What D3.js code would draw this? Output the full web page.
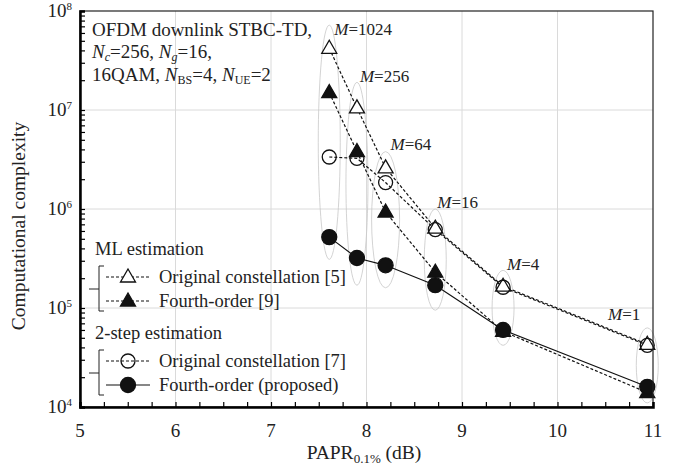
<!DOCTYPE html>
<html>
<head>
<meta charset="utf-8">
<script src="https://cdn.jsdelivr.net/npm/d3@7"></script>
<style>
  body { margin: 0; background: #fff; }
  text { font-family: "Liberation Serif", "Times New Roman", serif; fill: #222; }
</style>
</head>
<body>
<div id="chart"></div>
<script>
// PAPR (dB) for M = 1024, 256, 64, 16, 4, 1
const papr = [7.61, 7.9, 8.2, 8.72, 9.43, 10.94];
const mLabels = ["1024", "256", "64", "16", "4", "1"];

// complexity values per scheme
const mlOriginal = [4.2e7, 1.05e7, 2.6e6, 6.4e5, 1.66e5, 4.3e4];
const mlFourth = [1.5e7, 3.8e6, 9.3e5, 2.3e5, 5.8e4, 1.4e4];
const twoStepOriginal = [3.35e6, 3.25e6, 1.85e6, 6.2e5, 1.62e5, 4.2e4];
const twoStepFourth = [5.2e5, 3.2e5, 2.7e5, 1.7e5, 6.0e4, 1.6e4];

// grey ellipses grouping each M (top / bottom complexity)
const ellipseTop = [7.2e7, 1.9e7, 3.8e6, 1.0e6, 2.4e5, 6.3e4];
const ellipseBottom = [3.1e5, 1.7e5, 1.6e5, 9.5e4, 4.2e4, 1.1e4];

const series = [
    { name: "Original constellation [5]", values: mlOriginal, marker: "triangle", filled: false, dashed: true },
    { name: "Fourth-order [9]", values: mlFourth, marker: "triangle", filled: true, dashed: true },
    { name: "Original constellation [7]", values: twoStepOriginal, marker: "circle", filled: false, dashed: true },
    { name: "Fourth-order (proposed)", values: twoStepFourth, marker: "circle", filled: true, dashed: false }
];

const W = 694, H = 471;
const plotL = 80, plotR = 653, plotT = 11, plotB = 407;

const svg = d3.select("#chart").append("svg")
    .attr("width", W)
    .attr("height", H);

const x = d3.scaleLinear().domain([5, 11]).range([plotL, plotR]);
const y = d3.scaleLog().domain([1e4, 1e8]).range([plotB, plotT]);

// grid
const grid = svg.append("g").attr("stroke", "#dadada").attr("stroke-width", 1);
[6, 7, 8, 9, 10].forEach(v => {
    grid.append("line").attr("x1", x(v)).attr("x2", x(v)).attr("y1", plotT).attr("y2", plotB);
});
[1e5, 1e6, 1e7].forEach(v => {
    grid.append("line").attr("x1", plotL).attr("x2", plotR).attr("y1", y(v)).attr("y2", y(v));
});

// ellipses
svg.append("g").selectAll("ellipse")
    .data(papr)
    .enter().append("ellipse")
    .attr("cx", d => x(d))
    .attr("cy", (d, i) => (y(ellipseTop[i]) + y(ellipseBottom[i])) / 2)
    .attr("rx", (d, i) => i === 2 ? 14 : 11)
    .attr("ry", (d, i) => (y(ellipseBottom[i]) - y(ellipseTop[i])) / 2)
    .attr("fill", "none")
    .attr("stroke", "#c8c8c8")
    .attr("stroke-width", 0.8);

// M labels
const labelPos = [
    { dx: 5, dy: 10, anchor: "start" },
    { dx: 3, dy: 0, anchor: "start" },
    { dx: 5, dy: -2, anchor: "start" },
    { dx: 2, dy: -1, anchor: "start" },
    { dx: 4, dy: 0, anchor: "start" },
    { dx: -7, dy: -8, anchor: "end" }
];
papr.forEach((p, i) => {
    const t = svg.append("text")
        .attr("x", x(p) + labelPos[i].dx)
        .attr("y", y(ellipseTop[i]) + labelPos[i].dy)
        .attr("text-anchor", labelPos[i].anchor)
        .style("font-size", "17px");
    t.append("tspan").style("font-style", "italic").text("M");
    t.append("tspan").text("=" + mLabels[i]);
});

// lines
const line = d3.line().x((d, i) => x(papr[i])).y(d => y(d));
series.forEach(s => {
    svg.append("path")
        .attr("d", line(s.values))
        .attr("fill", "none")
        .attr("stroke", "#111")
        .attr("stroke-width", 1.2)
        .attr("stroke-dasharray", s.dashed ? "3,2" : null);
});

function trianglePath(cx, cy) {
    return `M${cx},${cy - 8} L${cx + 7.5},${cy + 5} L${cx - 7.5},${cy + 5} Z`;
}

function drawMarker(g, s, cx, cy) {
    if (s.marker === "triangle") {
        g.append("path")
            .attr("d", trianglePath(cx, cy))
            .attr("fill", s.filled ? "#111" : "#fff")
            .attr("stroke", "#111")
            .attr("stroke-width", 1.3);
    } else {
        g.append("circle")
            .attr("cx", cx).attr("cy", cy)
            .attr("r", s.filled ? 7.5 : 7)
            .attr("fill", s.filled ? "#111" : "none")
            .attr("stroke", "#111")
            .attr("stroke-width", 1.3);
    }
}

const markers = svg.append("g");
series.forEach(s => {
    s.values.forEach((v, i) => drawMarker(markers, s, x(papr[i]), y(v)));
});

// frame
svg.append("rect")
    .attr("x", plotL).attr("y", plotT)
    .attr("width", plotR - plotL).attr("height", plotB - plotT)
    .attr("fill", "none").attr("stroke", "#222").attr("stroke-width", 1.2);

// x axis
const xAxis = svg.append("g").attr("transform", `translate(0,${plotB})`);
xAxis.call(d3.axisBottom(x).tickValues(d3.range(5, 11.01, 0.25)).tickSize(-5).tickFormat(""));
xAxis.select(".domain").attr("stroke-width", 2.5);
xAxis.selectAll(".tick line").attr("stroke-width", 1.2);
[5, 6, 7, 8, 9, 10, 11].forEach(v => {
    svg.append("text")
        .attr("x", x(v)).attr("y", 437)
        .attr("text-anchor", "middle")
        .style("font-size", "19px")
        .text(v);
});

// y axis minor ticks
const yTicks = [];
for (let e = 4; e < 8; e++) for (let k = 1; k < 10; k++) yTicks.push(k * Math.pow(10, e));
yTicks.push(1e8);
const yAxis = svg.append("g").attr("transform", `translate(${plotL},0)`);
yAxis.call(d3.axisLeft(y).tickValues(yTicks).tickSize(-5).tickFormat(""));
yAxis.select(".domain").attr("stroke-width", 2.5);
yAxis.selectAll(".tick line").attr("stroke-width", 1.2);
[1e4, 1e5, 1e6, 1e7, 1e8].forEach(v => {
    const t = svg.append("text")
        .attr("x", 72).attr("y", y(v) + 6)
        .attr("text-anchor", "end")
        .style("font-size", "19px");
    t.append("tspan").text("10");
    t.append("tspan").attr("dy", -7).style("font-size", "11px").text(Math.round(Math.log10(v)));
});

// axis titles
svg.append("text")
    .attr("transform", `translate(25,${226}) rotate(-90)`)
    .attr("text-anchor", "middle")
    .style("font-size", "19.5px")
    .text("Computational complexity");

const xt = svg.append("text")
    .attr("x", 364).attr("y", 459)
    .attr("text-anchor", "middle")
    .style("font-size", "19.5px");
xt.append("tspan").text("PAPR");
xt.append("tspan").attr("dy", 4).style("font-size", "13px").text("0.1%");
xt.append("tspan").attr("dy", -4).text(" (dB)");

// annotation
const ann = svg.append("g").style("font-size", "19px");
ann.append("text").attr("x", 92).attr("y", 36).text("OFDM downlink STBC-TD,");
const a2 = ann.append("text").attr("x", 92).attr("y", 58);
a2.append("tspan").style("font-style", "italic").text("N");
a2.append("tspan").attr("dy", 3).style("font-size", "12px").style("font-style", "italic").text("c");
a2.append("tspan").attr("dy", -3).text("=256, ");
a2.append("tspan").style("font-style", "italic").text("N");
a2.append("tspan").attr("dy", 3).style("font-size", "12px").style("font-style", "italic").text("g");
a2.append("tspan").attr("dy", -3).text("=16,");
const a3 = ann.append("text").attr("x", 92).attr("y", 81);
a3.append("tspan").text("16QAM, ");
a3.append("tspan").style("font-style", "italic").text("N");
a3.append("tspan").attr("dy", 3).style("font-size", "12px").text("BS");
a3.append("tspan").attr("dy", -3).text("=4, ");
a3.append("tspan").style("font-style", "italic").text("N");
a3.append("tspan").attr("dy", 3).style("font-size", "12px").text("UE");
a3.append("tspan").attr("dy", -3).text("=2");

// legend
const legend = svg.append("g");
const groups = [
    { title: "ML estimation", y: 255, items: [series[0], series[1]] },
    { title: "2-step estimation", y: 339, items: [series[2], series[3]] }
];
groups.forEach(gr => {
    legend.append("text").attr("x", 95).attr("y", gr.y).style("font-size", "18.5px").text(gr.title);
    const ly1 = gr.y + 22, ly2 = gr.y + 46;
    legend.append("path")
        .attr("d", `M104,${ly1 - 11} H99 V${ly2 + 10} H104 M99,${(ly1 + ly2) / 2} H89`)
        .attr("fill", "none").attr("stroke", "#222").attr("stroke-width", 1);
    gr.items.forEach((s, i) => {
        const ly = i === 0 ? ly1 : ly2;
        legend.append("line")
            .attr("x1", 106).attr("x2", 150).attr("y1", ly).attr("y2", ly)
            .attr("stroke", "#111").attr("stroke-width", 1.2)
            .attr("stroke-dasharray", s.dashed ? "3,2" : null);
        drawMarker(legend, s, 128, ly);
        legend.append("text").attr("x", 159).attr("y", ly + 6).style("font-size", "18.5px").text(s.name);
    });
});
</script>
</body>
</html>
